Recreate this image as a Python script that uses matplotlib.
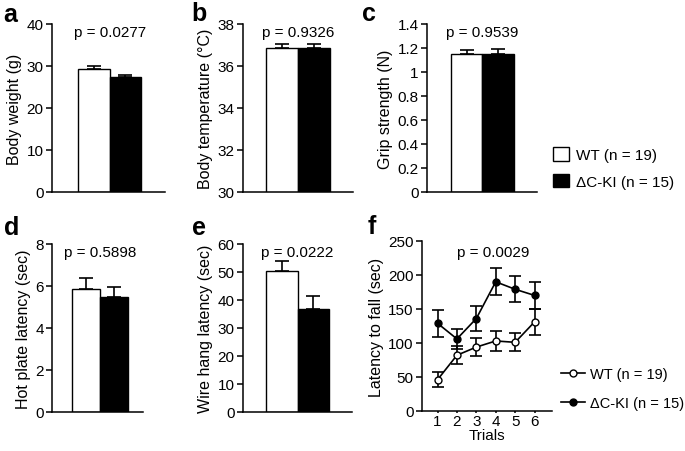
import matplotlib
matplotlib.use('Agg')
import matplotlib.pyplot as plt
from matplotlib.patches import Patch
from matplotlib.lines import Line2D

plt.rcParams['font.family'] = ['Liberation Sans', 'DejaVu Sans']
plt.rcParams['font.size'] = 11
plt.rcParams['axes.linewidth'] = 1.1

groups = ['WT (n = 19)', '\u0394C-KI (n = 15)']

weight = [29.3, 27.3]
weight_err = [0.6, 0.5]
temp = [36.85, 36.85]
temp_err = [0.2, 0.22]
grip = [1.15, 1.15]
grip_err = [0.03, 0.045]
hotplate = [5.88, 5.48]
hotplate_err = [0.5, 0.45]
wirehang = [50.5, 36.8]
wirehang_err = [3.5, 4.7]

trials = [1, 2, 3, 4, 5, 6]
wt_fall = [46, 82, 94, 103, 101, 131]
wt_fall_err = [11, 13, 13, 15, 13, 19]
ki_fall = [129, 106, 136, 190, 179, 170]
ki_fall_err = [20, 15, 18, 20, 19, 20]

fig = plt.figure(figsize=(6.85, 4.52), dpi=100)
W, H = 685, 452


def add_ax(x0, x1, ytop, ybot):
    return fig.add_axes([x0 / W, 1 - ybot / H, (x1 - x0) / W, (ybot - ytop) / H])


def bar_panel(ax, vals, errs, ylim, yticks, ylabel, ptext, xlim, ticklabels=None):
    ax.bar([0, 1], vals, width=1.0, color=['white', 'black'], edgecolor='black',
           linewidth=1.0, zorder=2)
    ax.errorbar([0, 1], vals, yerr=[[0, 0], errs], fmt='none', ecolor='black',
                elinewidth=1.2, capsize=5, capthick=1.2, zorder=1)
    ax.set_xlim(*xlim)
    ax.set_ylim(*ylim)
    ax.set_yticks(yticks)
    if ticklabels is not None:
        ax.set_yticklabels(ticklabels)
    ax.set_xticks([])
    ax.spines['top'].set_visible(False)
    ax.spines['right'].set_visible(False)
    ax.tick_params(axis='y', length=4, width=1.1, pad=2, labelsize=11)
    ax.set_ylabel(ylabel, fontsize=11.5, labelpad=3)
    ax.text(0.5, ylim[1] - (ylim[1] - ylim[0]) * 0.045, ptext, ha='center',
            va='center', fontsize=11)


ax_a = add_ax(52, 165, 25, 193)
bar_panel(ax_a, weight, weight_err, (0, 40), [0, 10, 20, 30, 40],
          'Body weight (g)', 'p = 0.0277', (-1.34, 2.27))

ax_b = add_ax(243, 353, 25, 193)
bar_panel(ax_b, temp, temp_err, (30, 38), [30, 32, 34, 36, 38],
          'Body temperature (\u00b0C)', 'p = 0.9326', (-1.24, 2.24))

ax_c = add_ax(427, 537, 25, 193)
bar_panel(ax_c, grip, grip_err, (0, 1.4), [0, 0.2, 0.4, 0.6, 0.8, 1.0, 1.2, 1.4],
          'Grip strength (N)', 'p = 0.9539', (-1.27, 2.24),
          ['0', '0.2', '0.4', '0.6', '0.8', '1', '1.2', '1.4'])

ax_d = add_ax(52, 143, 245, 413)
bar_panel(ax_d, hotplate, hotplate_err, (0, 8), [0, 2, 4, 6, 8],
          'Hot plate latency (sec)', 'p = 0.5898', (-1.21, 2.04))

ax_e = add_ax(243, 352, 245, 413)
bar_panel(ax_e, wirehang, wirehang_err, (0, 60), [0, 10, 20, 30, 40, 50, 60],
          'Wire hang latency (sec)', 'p = 0.0222', (-1.24, 2.23))

# legend for bar panels
handles = [Patch(facecolor='white', edgecolor='black', linewidth=1.0),
           Patch(facecolor='black', edgecolor='black', linewidth=1.0)]
fig.legend(handles, groups, loc='upper left', bbox_to_anchor=(541 / W, 1 - 136 / H),
           frameon=False, fontsize=11, handlelength=1.0, handleheight=1.0,
           handletextpad=0.5, labelspacing=0.75, borderpad=0.3)

# panel f
ax_f = add_ax(422, 552, 242, 412)
ax_f.errorbar(trials, ki_fall, yerr=ki_fall_err, color='black', marker='o',
              markersize=5, markerfacecolor='black', linewidth=1.2,
              elinewidth=1.2, capsize=4, capthick=1.2, label=groups[1])
ax_f.errorbar(trials, wt_fall, yerr=wt_fall_err, color='black', marker='o',
              markersize=5, markerfacecolor='white', linewidth=1.2,
              elinewidth=1.2, capsize=4, capthick=1.2, label=groups[0], zorder=3)
ax_f.set_xlim(0.2, 6.9)
ax_f.set_ylim(0, 250)
ax_f.set_xticks(trials)
ax_f.set_yticks([0, 50, 100, 150, 200, 250])
ax_f.spines['top'].set_visible(False)
ax_f.spines['right'].set_visible(False)
ax_f.tick_params(axis='y', length=4, width=1.1, pad=2, labelsize=11)
ax_f.tick_params(axis='x', length=1.5, width=1.1, pad=1, labelsize=11)
ax_f.set_xlabel('Trials', fontsize=11, labelpad=0)
ax_f.set_ylabel('Latency to fall (sec)', fontsize=11.5, labelpad=3)
ax_f.text(0.546, 0.935, 'p = 0.0029', transform=ax_f.transAxes, ha='center',
          va='center', fontsize=11)

lh = [Line2D([], [], color='black', marker='o', markersize=5, markerfacecolor='white', lw=1.2),
      Line2D([], [], color='black', marker='o', markersize=5, markerfacecolor='black', lw=1.2)]
fig.legend(lh, groups, loc='upper left', bbox_to_anchor=(549 / W, 1 - 356 / H),
           frameon=False, fontsize=10.5, handlelength=1.7, handletextpad=0.3,
           labelspacing=1.05, borderpad=0.3)

# panel letters
for lab, x, y in [('a', 3, 15), ('b', 191, 14), ('c', 362, 14),
                  ('d', 4, 228), ('e', 192, 228), ('f', 368, 227)]:
    fig.text(x / W, 1 - y / H, lab, fontsize=18, fontweight='bold', va='center', ha='left')

fig.savefig('out.png', dpi=100)
